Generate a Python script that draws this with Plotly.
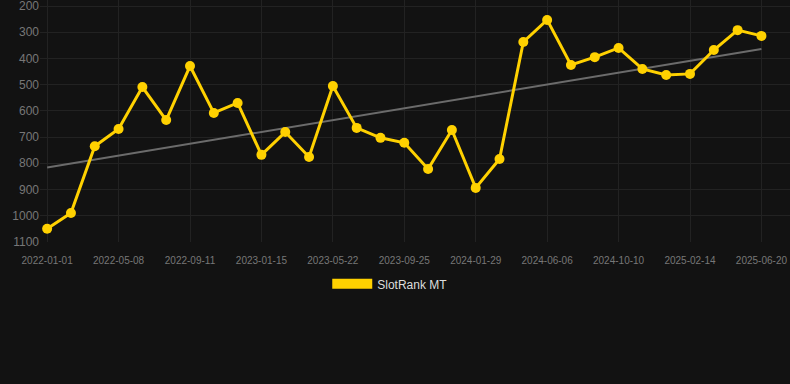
import numpy as np
import plotly.graph_objects as go

dates = ["2022-01-01", "2022-02-12", "2022-03-26", "2022-05-08", "2022-06-19", "2022-07-31",
         "2022-09-11", "2022-10-23", "2022-12-04", "2023-01-15", "2023-02-27", "2023-04-10",
         "2023-05-22", "2023-07-03", "2023-08-14", "2023-09-25", "2023-11-07", "2023-12-19",
         "2024-01-29", "2024-03-12", "2024-04-24", "2024-06-06", "2024-07-17", "2024-08-28",
         "2024-10-10", "2024-11-21", "2025-01-02", "2025-02-14", "2025-03-27", "2025-05-08",
         "2025-06-20"]
rank = [1050, 990, 735, 669, 509, 635, 429, 608, 570, 768, 681, 776, 505, 665, 703, 722,
        822, 673, 894, 784, 337, 253, 425, 395, 360, 440, 463, 459, 368, 292, 314]
tick_dates = dates[::3]
y_ticks = [200, 300, 400, 500, 600, 700, 800, 900, 1000, 1100]

GOLD = "#FFD100"
BG = "#121212"

idx = np.arange(len(rank))
slope, intercept = np.polyfit(idx, rank, 1)
trend = slope * idx + intercept

fig = go.Figure()
fig.add_trace(go.Scatter(x=[dates[0], dates[-1]], y=[trend[0], trend[-1]], mode="lines",
                         line=dict(color="#6b6b6b", width=2), showlegend=False, hoverinfo="skip"))
fig.add_trace(go.Scatter(x=dates, y=rank, mode="lines+markers", name="SlotRank MT",
                         line=dict(color=GOLD, width=3), marker=dict(color=GOLD, size=10),
                         showlegend=False))
fig.add_trace(go.Scatter(x=[None], y=[None], mode="lines", name="SlotRank MT",
                         line=dict(color=GOLD, width=11), showlegend=True))

fig.update_layout(
    width=790, height=384,
    paper_bgcolor=BG, plot_bgcolor=BG,
    margin=dict(l=40, r=0, t=0, b=142),
    font=dict(family="Liberation Sans, Arial, sans-serif", color="#777777"),
    xaxis=dict(type="category", categoryorder="array", categoryarray=dates,
               range=[-0.3, 31.2], tickmode="array", tickvals=tick_dates,
               ticktext=tick_dates, showgrid=True, gridcolor="#222222", gridwidth=1,
               zeroline=False, showline=False, tickfont=dict(size=10, color="#777777"),
               ticks="outside", ticklen=9, tickcolor=BG),
    yaxis=dict(range=[1100.5, 177], tickmode="array", tickvals=y_ticks, showgrid=True,
               gridcolor="#222222", gridwidth=1, zeroline=False, showline=False,
               tickfont=dict(size=12, color="#777777"), ticks="", ticklen=0,
               ticklabeloverflow="allow"),
    legend=dict(orientation="h", x=0.467, xanchor="center", y=-0.113, yanchor="top",
                font=dict(size=12, color="#dddddd"), itemwidth=40, bgcolor="rgba(0,0,0,0)"),
)

fig.write_html("out.html")
